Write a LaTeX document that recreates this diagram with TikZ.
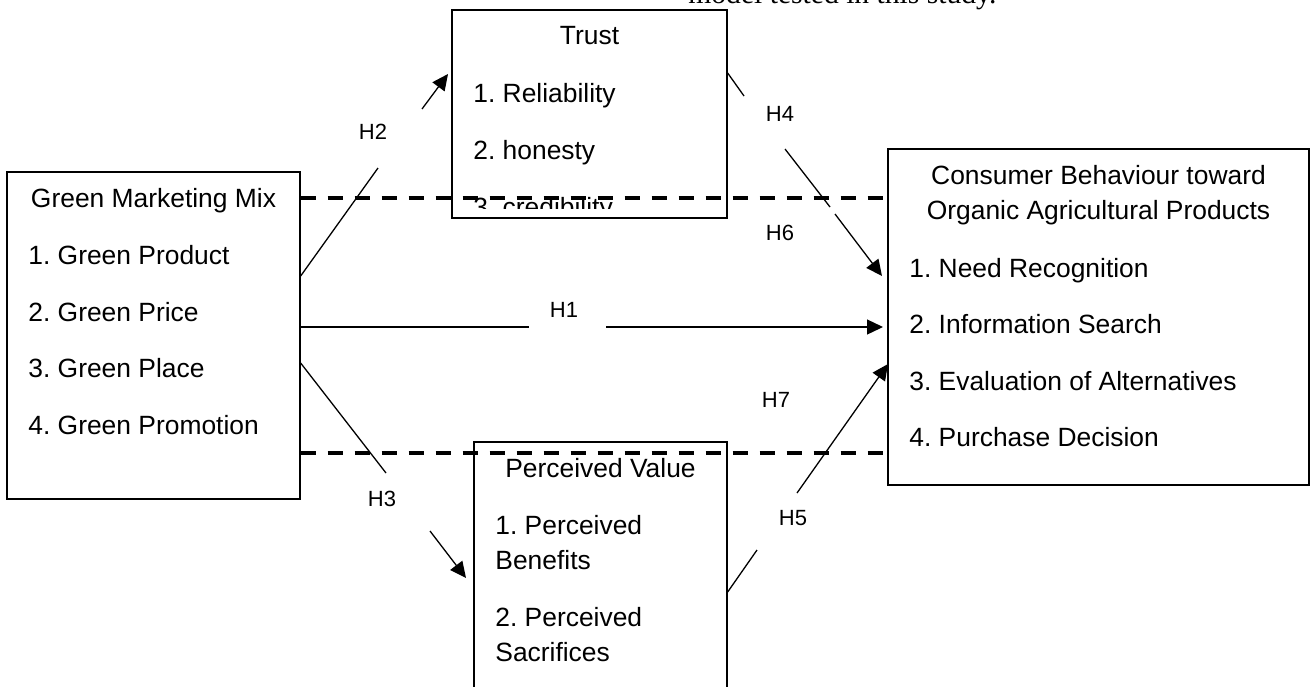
\documentclass[tikz,border=0pt]{standalone}
\usepackage{fontspec}
\setmainfont{Liberation Sans}
\newfontfamily\captionserif{Liberation Serif}
\usetikzlibrary{arrows.meta}
\frenchspacing
\tikzset{concept/.style={rectangle, draw, fill=white, line width=0.65pt, inner sep=0pt}}
\tikzset{heading/.style={anchor=base, inner sep=0pt, font=\fontsize{13.2}{15}\selectfont}}
\tikzset{item/.style={anchor=base west, inner sep=0pt, font=\fontsize{13.2}{15}\selectfont}}
\tikzset{hyp/.style={inner sep=0pt, font=\fontsize{11}{13}\selectfont}}
\tikzset{link/.style={line width=0.65pt}}
\tikzset{linkarrow/.style={link, -{Triangle[length=8pt, width=7.5pt]}}}
\tikzset{moderation/.style={line width=2pt, dash pattern=on 7.5pt off 6pt}}

\begin{document}
\begin{tikzpicture}[x=0.5pt, y=-0.5pt]
  \useasboundingbox (0,0) rectangle (1310,686);
  \clip (0,0) rectangle (1310,686);

  \node[anchor=base west, inner sep=0pt, font=\captionserif\fontsize{14.8}{17}\selectfont] (caption) at (688,3) {model tested in this study.};

  \node[concept, minimum width=146.5pt, minimum height=163.5pt] (gmm) at (153.5,335.5) {};
  \node[concept, minimum width=137.5pt, minimum height=104pt] (trust) at (589.5,114) {};
  \node[concept, minimum width=126.5pt, minimum height=144pt] (value) at (600.5,586) {};
  \node[concept, minimum width=210.5pt, minimum height=168pt] (behav) at (1098.5,317) {};

  \node[heading] (gmmtitle) at (153.5,207) {Green Marketing Mix};
  \node[item] (gmm1) at (28,264) {1. Green Product};
  \node[item] (gmm2) at (28,321) {2. Green Price};
  \node[item] (gmm3) at (28,377) {3. Green Place};
  \node[item] (gmm4) at (28,434) {4. Green Promotion};

  \node[heading] (trusttitle) at (589.5,44) {Trust};
  \node[item] (trust1) at (473,102) {1. Reliability};
  \node[item] (trust2) at (473,159) {2. honesty};
  \begin{scope}
    \clip (trust.north west) rectangle (727,208);
    \node[item] (trust3) at (473,216) {3. credibility};
  \end{scope}

  \node[heading] (valuetitle) at (600.5,477) {Perceived Value};
  \node[item] (value1) at (495,534) {1. Perceived};
  \node[item] (value1b) at (495,569) {Benefits};
  \node[item] (value2) at (495,626) {2. Perceived};
  \node[item] (value2b) at (495,661) {Sacrifices};

  \node[heading] (behavtitle) at (1098.5,184) {Consumer Behaviour toward};
  \node[heading] (behavtitleb) at (1098.5,219) {Organic Agricultural Products};
  \node[item] (behav1) at (909,277) {1. Need Recognition};
  \node[item] (behav2) at (909,333) {2. Information Search};
  \node[item] (behav3) at (909,390) {3. Evaluation of Alternatives};
  \node[item] (behav4) at (909,446) {4. Purchase Decision};

  \node[hyp] (h1) at (564,310) {H1};
  \node[hyp] (h2) at (373,132) {H2};
  \node[hyp] (h3) at (382,499) {H3};
  \node[hyp] (h4) at (780,114) {H4};
  \node[hyp] (h5) at (793,518) {H5};
  \node[hyp] (h6) at (780,233) {H6};
  \node[hyp] (h7) at (776,400) {H7};

  \coordinate (h1a) at (529,327);
  \coordinate (h1b) at (606,327);
  \coordinate (h1tip) at (883,327);
  \coordinate (h2a) at (378,168);
  \coordinate (h2b) at (422,109);
  \coordinate (h2tip) at (448,74);
  \coordinate (h3a) at (386,473);
  \coordinate (h3b) at (430,531);
  \coordinate (h3tip) at (466,578);
  \coordinate (h4a) at (744,96);
  \coordinate (h4b) at (785,149);
  \coordinate (h4c) at (830,207);
  \coordinate (h4d) at (835,214);
  \coordinate (h4tip) at (882,276);
  \coordinate (h5a) at (757,550);
  \coordinate (h5b) at (797,493);
  \coordinate (h5tip) at (888,364);

  \draw[link] (gmm.east |- h1a) -- (h1a);
  \draw[linkarrow] (h1b) -- (h1tip);
  \draw[link] (gmm.east |- 0,276) -- (h2a);
  \draw[linkarrow] (h2b) -- (h2tip);
  \draw[link] (gmm.east |- 0,363) -- (h3a);
  \draw[linkarrow] (h3b) -- (h3tip);
  \draw[link] (trust.east |- 0,73) -- (h4a);
  \draw[link] (h4b) -- (h4c);
  \draw[linkarrow] (h4d) -- (h4tip);
  \draw[link] (value.east |- 0,592) -- (h5a);
  \draw[linkarrow] (h5b) -- (h5tip);

  \draw[moderation] (gmm.east |- 0,198) -- (behav.west |- 0,198);
  \draw[moderation] (gmm.east |- 0,453) -- (behav.west |- 0,453);
\end{tikzpicture}
\end{document}
